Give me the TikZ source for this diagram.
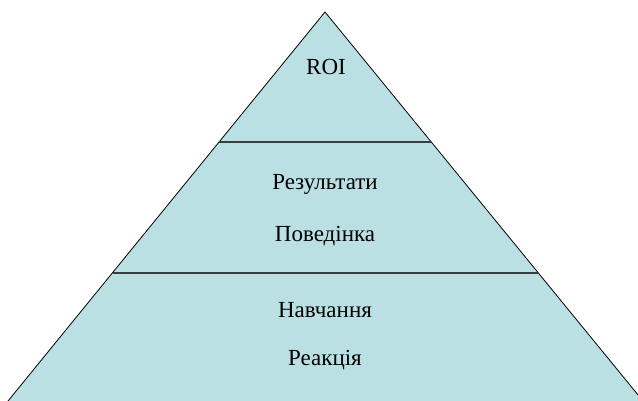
\documentclass[tikz,border=0pt]{standalone}
\usepackage{fontspec}
\setmainfont{Liberation Serif}
\usetikzlibrary{calc}
\definecolor{pyrfill}{HTML}{BBE0E3}
\definecolor{sepline}{HTML}{333F40}
\begin{document}
\begin{tikzpicture}[x=1pt,y=-1pt,
  lbl/.style={font=\fontsize{23}{25}\selectfont, anchor=base, inner sep=0pt},
  sep/.style={draw=sepline, line width=2pt}]
\useasboundingbox (0,0) rectangle (638,401);
\clip (0,0) rectangle (638,401);
\coordinate (apex) at (325,12);
\coordinate (bl) at (8,401);
\coordinate (br) at (643,401);
\fill[pyrfill] (apex) -- (bl) -- (br) -- cycle;
\draw[black, line width=0.8pt, line join=miter] (bl) -- (apex) -- (br);
\coordinate (s1l) at ($(apex)!0.334!(bl)$);
\coordinate (s1r) at ($(apex)!0.334!(br)$);
\coordinate (s2l) at ($(apex)!0.670!(bl)$);
\coordinate (s2r) at ($(apex)!0.670!(br)$);
\draw[sep] (s1l) -- (s1r);
\draw[sep] (s2l) -- (s2r);
\node[lbl] (roi) at (326,75) {ROI};
\node[lbl] (res) at (325,190) {Результати};
\node[lbl] (beh) at (325,242) {Поведінка};
\node[lbl] (learn) at (325,317) {Навчання};
\node[lbl] (react) at (325,365) {Реакція};
\end{tikzpicture}
\end{document}
